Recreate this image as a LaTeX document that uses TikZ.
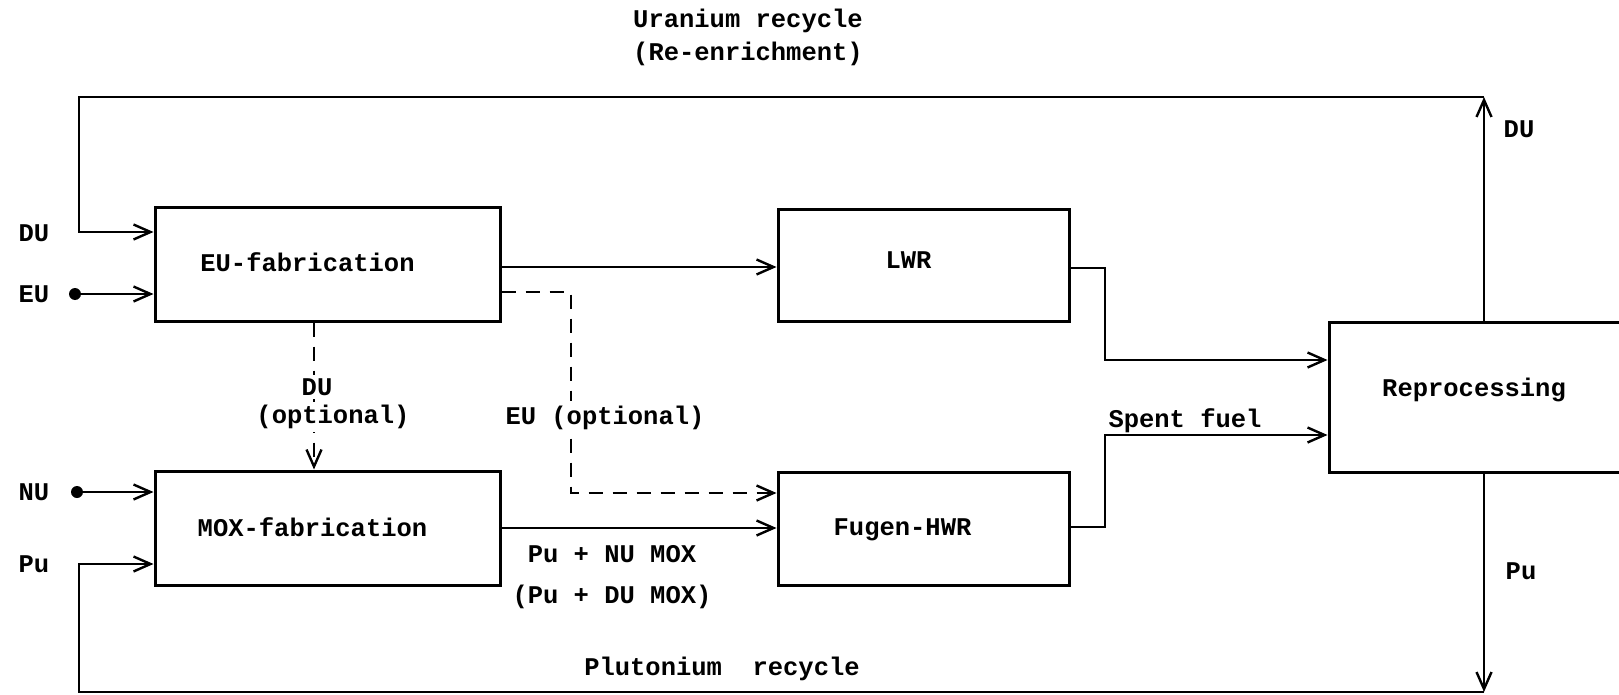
\documentclass[tikz,border=0pt]{standalone}
\usepackage{fontspec}
\setmonofont{Liberation Mono}
\usetikzlibrary{arrows.meta}
\begin{document}
\begin{tikzpicture}[x=1pt,y=-1pt,
  txt/.style={font=\ttfamily\bfseries\fontsize{25.5}{30}\selectfont, inner sep=0pt},
  box/.style={draw, line width=3pt, inner sep=0pt},
  conn/.style={line width=2.4pt, -{Straight Barb[length=17pt,width=15pt]}},
  opt/.style={conn, dash pattern=on 14pt off 10pt},
  dotnode/.style={circle, fill, inner sep=0pt, minimum size=12pt},
  gap/.style={txt, fill=white, inner sep=5pt},
]
\useasboundingbox (0,0) rectangle (1619,695);

% boxes
\node[box, minimum width=345pt, minimum height=113pt,
  label={[txt, xshift=-20pt, yshift=2pt]center:EU-fabrication}] (eu) at (327.5,264.5) {};
\node[box, minimum width=345pt, minimum height=114pt,
  label={[txt, xshift=-15pt, yshift=1pt]center:MOX-fabrication}] (mox) at (327.5,528) {};
\node[box, minimum width=291pt, minimum height=111pt,
  label={[txt, xshift=-15pt, yshift=5pt]center:LWR}] (lwr) at (923.5,265.5) {};
\node[box, minimum width=291pt, minimum height=113pt,
  label={[txt, xshift=-21pt, yshift=-1pt]center:Fugen-HWR}] (fug) at (923.5,528.5) {};
\node[box, minimum width=296pt, minimum height=150pt,
  label={[txt, xshift=-3pt, yshift=7pt]center:Reprocessing}] (rep) at (1477,397) {};

% input labels and dots
\node[txt] (lDU) at (34,233) {DU};
\node[txt] (lEU) at (34,294) {EU};
\node[txt] (lNU) at (34,492) {NU};
\node[txt] (lPu) at (34,564) {Pu};
\node[dotnode] (eudot) at (75,294) {};
\node[dotnode] (nudot) at (77,492) {};

% corner coordinates
\coordinate (tr) at (1484,97);
\coordinate (tl) at (79,97);
\coordinate (br) at (1484,692);
\coordinate (bl) at (79,692);
\coordinate (lj) at (1105,360);
\coordinate (fj) at (1105,435);
\coordinate (dj) at (571,493);

% uranium recycle
\draw[conn] (rep.north -| tr) -- (tr);
\draw[conn] (tr) -- (tl) |- (eu.west |- 0,232);
% plutonium recycle
\draw[conn] (rep.south -| br) -- (br);
\draw[conn] (br) -- (bl) |- (mox.west |- 0,564);

% inputs
\draw[conn] (eudot) -- (eudot -| eu.west);
\draw[conn] (nudot) -- (nudot -| mox.west);

% fabrication to reactors
\draw[conn] (eu.east |- 0,267) -- (lwr.west |- 0,267);
\draw[conn] (mox.east |- 0,528) -- (fug.west |- 0,528);
\draw[opt] (eu.east |- 0,292) -| (dj) -- (fug.west |- dj);
\draw[opt] (eu.south -| 314,0) -- (mox.north -| 314,0);

% reactors to reprocessing
\draw[conn] (lwr.east |- 0,268) -| (lj) -- (rep.west |- lj);
\draw[conn] (fug.east |- 0,527) -| (fj) -- (rep.west |- fj);

% labels
\node[txt] (ur1) at (748,21) {Uranium recycle};
\node[txt] (ur2) at (748,54) {(Re-enrichment)};
\node[txt] (pr) at (722,669) {Plutonium~~recycle};
\node[txt] (rDU) at (1519,129) {DU};
\node[txt] (rPu) at (1521,571) {Pu};
\node[txt] (sf) at (1185,421) {Spent fuel};
\node[txt] (mx1) at (612,554) {Pu + NU MOX};
\node[txt] (mx2) at (612,597) {(Pu + DU MOX)};
\node[gap] (euopt) at (605,418) {EU (optional)};
\node[gap, inner sep=3pt] (duopt2) at (333,417) {(optional)};
\node[gap, inner sep=3pt] (duopt1) at (317,387) {DU};
\end{tikzpicture}
\end{document}
